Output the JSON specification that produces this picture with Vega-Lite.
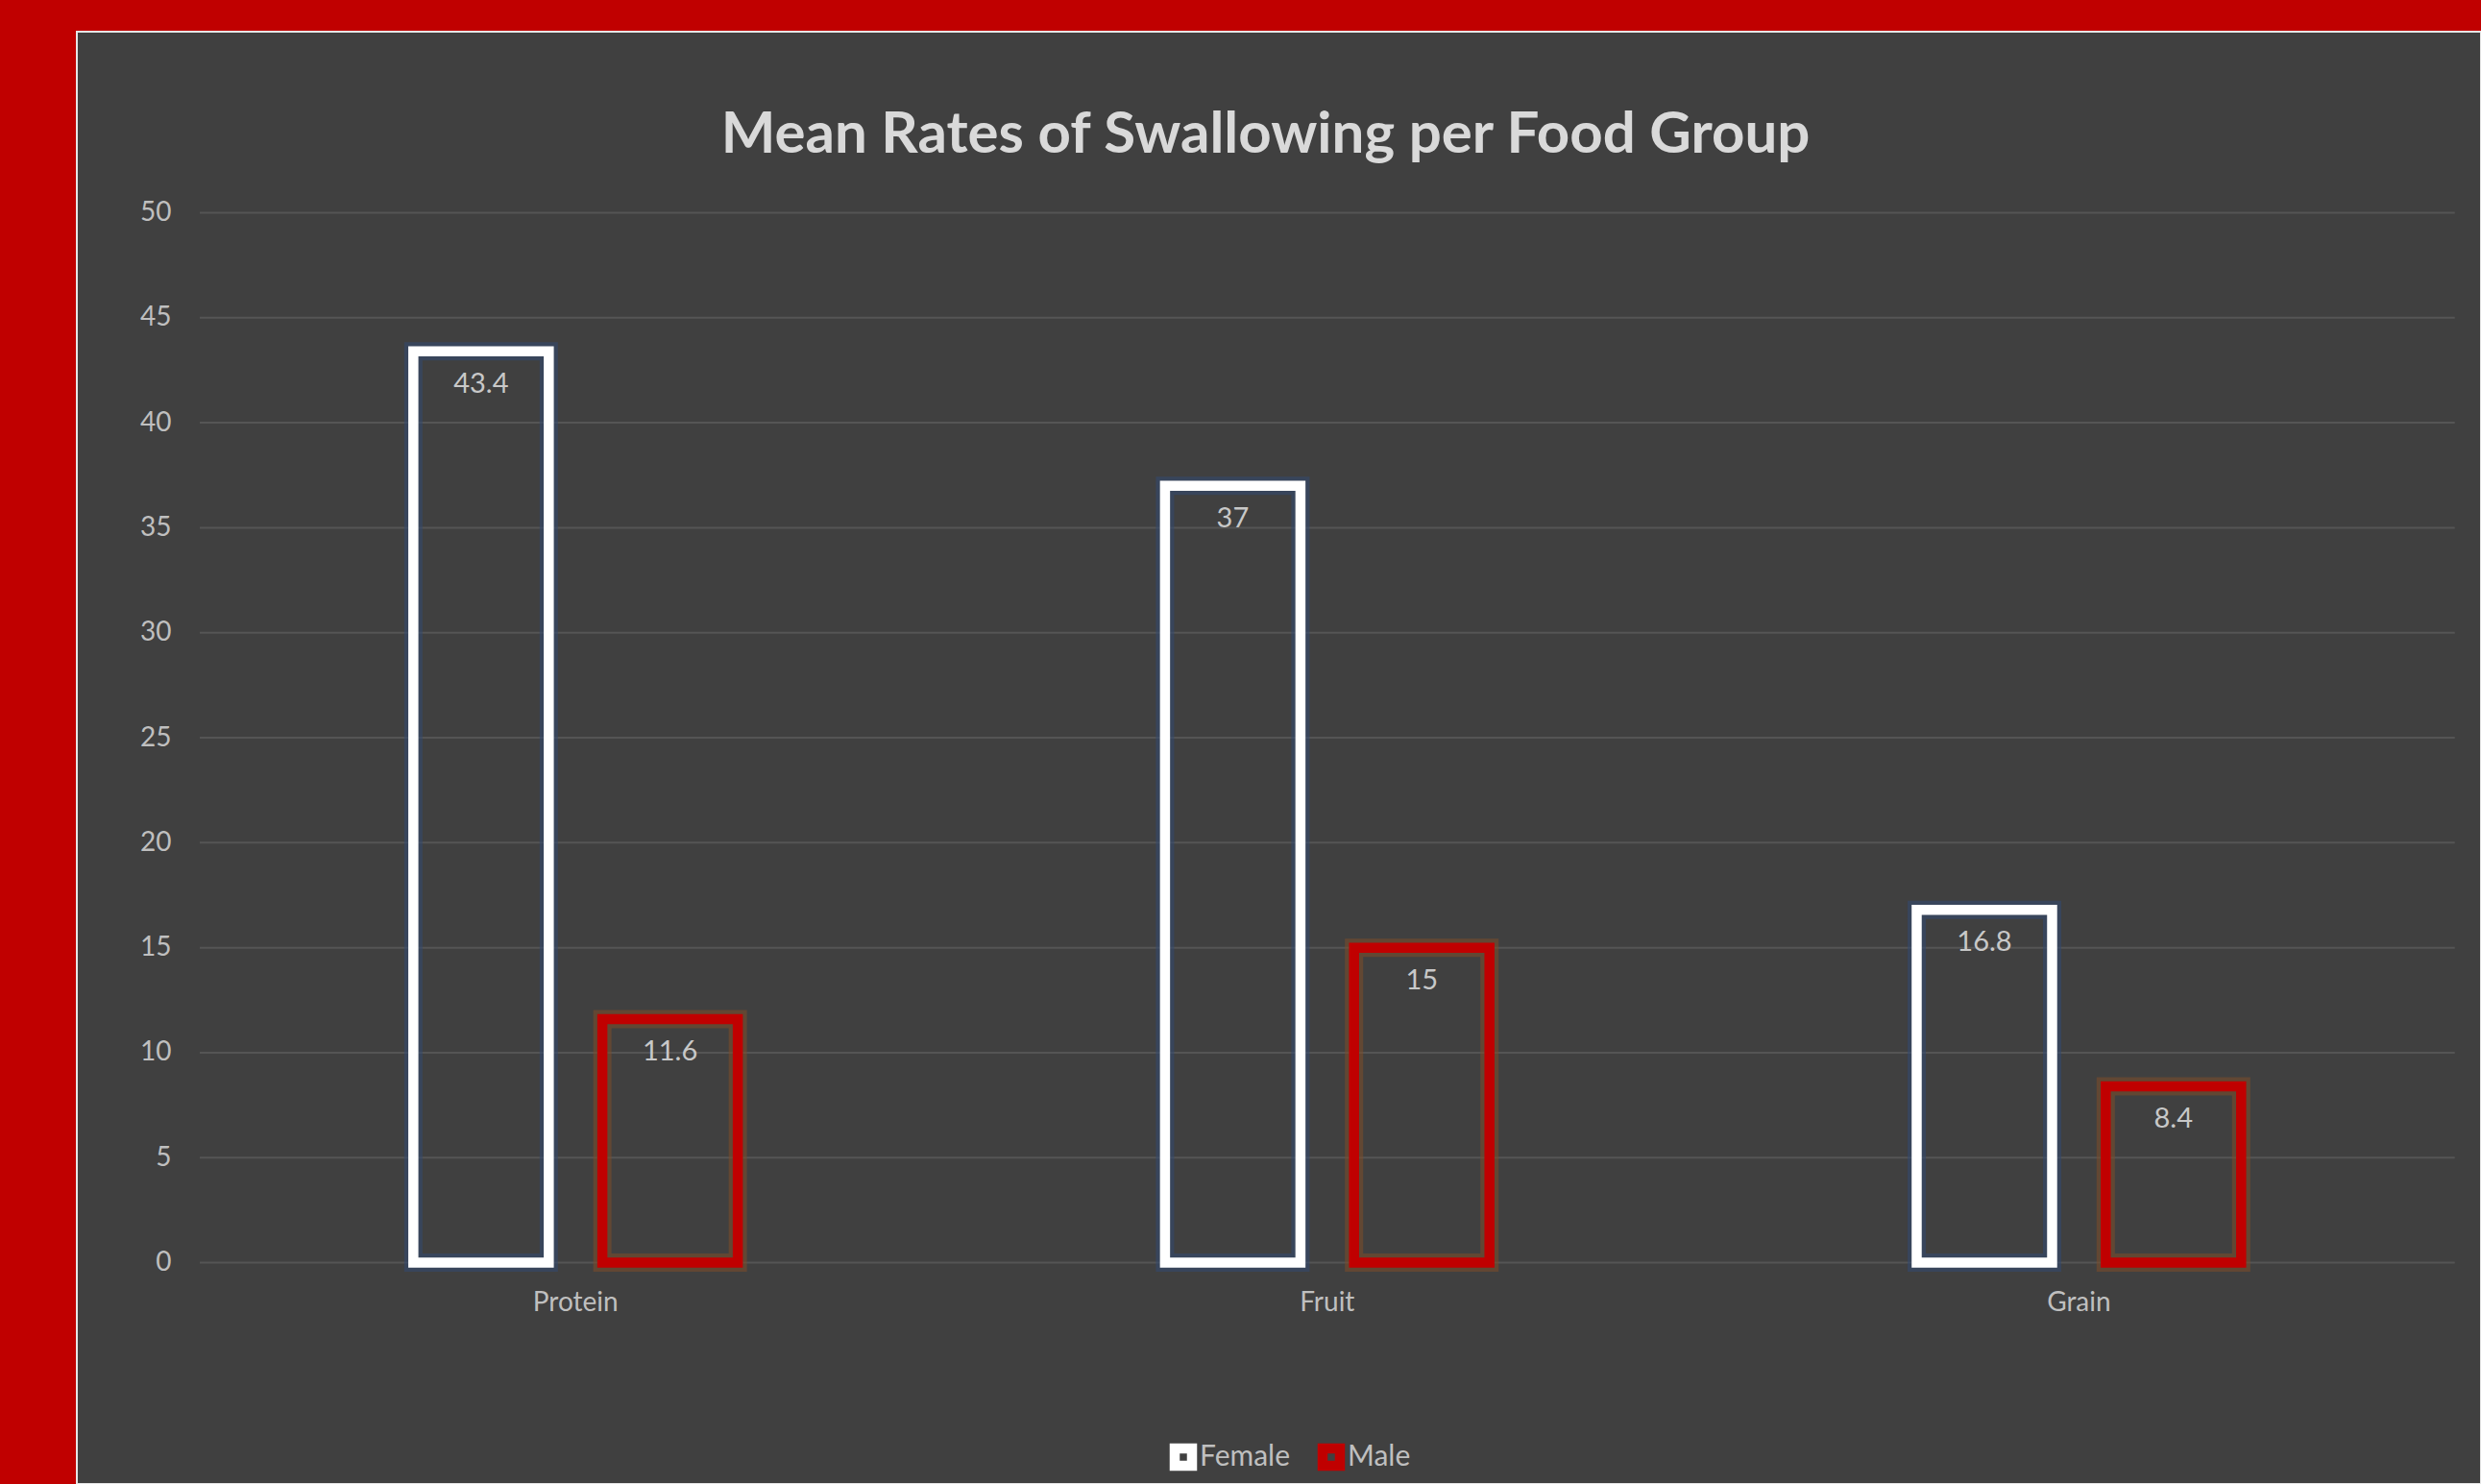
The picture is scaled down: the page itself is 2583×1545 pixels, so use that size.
{
  "$schema": "https://vega.github.io/schema/vega-lite/v6.json",
  "width": 2503,
  "height": 1512,
  "autosize": {"type": "none"},
  "padding": {"left": 80, "top": 33, "right": 0, "bottom": 0},
  "background": "#C00000",
  "view": {"fill": "#404040", "stroke": "#E6E6E6", "strokeWidth": 2},
  "title": {
    "text": "Mean Rates of Swallowing per Food Group",
    "font": "Lato",
    "fontSize": 60,
    "fontWeight": "bold",
    "color": "#D9D9D9",
    "anchor": "middle",
    "frame": "group",
    "baseline": "alphabetic",
    "offset": -186,
    "dx": -14
  },
  "datasets": {
    "bars": [
      {"group": "Protein", "sex": "Female", "v": 43.4},
      {"group": "Protein", "sex": "Male", "v": 11.6},
      {"group": "Fruit", "sex": "Female", "v": 37},
      {"group": "Fruit", "sex": "Male", "v": 15},
      {"group": "Grain", "sex": "Female", "v": 16.8},
      {"group": "Grain", "sex": "Male", "v": 8.4}
    ],
    "grid": [
      {"g": 0}, {"g": 5}, {"g": 10}, {"g": 15}, {"g": 20}, {"g": 25},
      {"g": 30}, {"g": 35}, {"g": 40}, {"g": 45}, {"g": 50}
    ]
  },
  "layer": [
    {
      "data": {"name": "grid"},
      "mark": {"type": "rule", "color": "#555555", "strokeWidth": 2},
      "encoding": {
        "y": {"field": "g", "type": "quantitative"},
        "x": {"datum": "Protein", "type": "nominal", "bandPosition": 0},
        "x2": {"datum": "Grain", "bandPosition": 1}
      }
    },
    {
      "data": {"name": "bars"},
      "mark": {"type": "bar", "fill": "#404040", "fillOpacity": 0, "strokeWidth": 19, "strokeOpacity": 0.6, "width": 141},
      "encoding": {
        "x": {"field": "group", "type": "nominal", "sort": ["Protein", "Fruit", "Grain"]},
        "xOffset": {"field": "sex", "type": "nominal", "sort": ["Female", "Male"]},
        "y": {"field": "v", "type": "quantitative"},
        "y2": {"datum": 0},
        "stroke": {"condition": {"test": "datum.sex === 'Female'", "value": "#34496E"}, "value": "#7A4C2C"}
      }
    },
    {
      "data": {"name": "bars"},
      "mark": {"type": "bar", "fill": "#404040", "fillOpacity": 0, "strokeWidth": 10.5, "width": 141},
      "encoding": {
        "x": {
          "field": "group",
          "type": "nominal",
          "sort": ["Protein", "Fruit", "Grain"],
          "scale": {"paddingInner": 0, "paddingOuter": 0.0992, "align": 0.824},
          "axis": {
            "orient": "bottom",
            "offset": -230.5,
            "domain": false,
            "ticks": false,
            "tickSize": 0,
            "grid": false,
            "labelPadding": 42,
            "labelAngle": 0,
            "labelAlign": "center",
            "labelFont": "Lato",
            "labelFontSize": 28,
            "labelColor": "#BFBFBF",
            "title": null
          }
        },
        "xOffset": {
          "field": "sex",
          "type": "nominal",
          "sort": ["Female", "Male"],
          "scale": {"paddingInner": 0.0234, "paddingOuter": 1}
        },
        "y": {
          "field": "v",
          "type": "quantitative",
          "scale": {"domain": [-10.54, 58.62], "nice": false, "zero": false},
          "axis": {
            "values": [0, 5, 10, 15, 20, 25, 30, 35, 40, 45, 50],
            "offset": -98,
            "domain": false,
            "ticks": false,
            "tickSize": 0,
            "grid": false,
            "labelPadding": 0,
            "labelFont": "Lato",
            "labelFontSize": 28,
            "labelColor": "#BFBFBF",
            "title": null
          }
        },
        "y2": {"datum": 0},
        "stroke": {
          "field": "sex",
          "type": "nominal",
          "scale": {"domain": ["Female", "Male"], "range": ["#FFFFFF", "#C00000"]},
          "legend": {
            "orient": "none",
            "legendX": 1137,
            "legendY": 1469,
            "direction": "horizontal",
            "title": null,
            "symbolType": "square",
            "symbolSize": 324,
            "symbolStrokeWidth": 10.5,
            "symbolFillColor": "#404040",
            "labelFont": "Lato",
            "labelFontSize": 30,
            "labelColor": "#BFBFBF",
            "labelOffset": 2,
            "columnPadding": 12,
            "padding": 0
          }
        }
      }
    },
    {
      "data": {"name": "bars"},
      "mark": {"type": "text", "baseline": "middle", "dy": 34, "font": "Lato", "fontSize": 29, "color": "#C8C8C8"},
      "encoding": {
        "x": {"field": "group", "type": "nominal", "sort": ["Protein", "Fruit", "Grain"]},
        "xOffset": {"field": "sex", "type": "nominal", "sort": ["Female", "Male"]},
        "y": {"field": "v", "type": "quantitative"},
        "text": {"field": "v", "type": "nominal"}
      }
    }
  ]
}
